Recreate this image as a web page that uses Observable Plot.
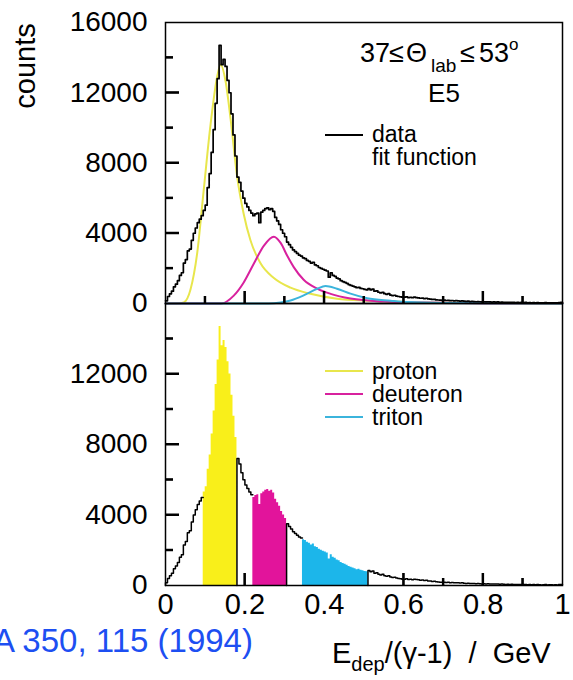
<!DOCTYPE html>
<html><head><meta charset="utf-8">
<script src="https://cdn.jsdelivr.net/npm/d3@7"></script>
<script src="https://cdn.jsdelivr.net/npm/@observablehq/plot@0.6"></script>
<style>
html,body{margin:0;padding:0;background:#fff;}
#chart{position:relative;width:573px;height:680px;overflow:hidden;font-family:"Liberation Sans",Arial,sans-serif;}
#chart svg{position:absolute;left:0;}
</style></head><body><div id="chart"></div>
<script>
// ---- data ----
const binWidth = 0.005;
const counts = [
  150, 400, 550, 700, 950, 1100, 1300, 1600, 1750, 2300,
  2500, 3000, 3100, 3600, 4000, 4300, 4600, 4800, 5000, 5300,
  5600, 6600, 7400, 8600, 9900, 11400, 12800, 14700, 13600, 13900,
  13500, 12700, 12000, 10800, 9600, 8400, 7200, 6900, 6400, 6000,
  5700, 5500, 5300, 5150, 5000, 5100, 5150, 4600, 5200, 5300,
  5400, 5450, 5350, 5400, 5250, 4900, 4700, 4500, 4200, 4000,
  3800, 3500, 3350, 3200, 3050, 2950, 2850, 2750, 2700, 2600,
  2550, 2450, 2400, 2300, 2350, 2200, 2150, 2050, 2000, 1950,
  1900, 1850, 1500, 1750, 1600, 1550, 1450, 1400, 1300, 1250,
  1200, 1150, 1080, 1030, 990, 950, 900, 920, 860, 840,
  800, 780, 850, 780, 820, 700, 720, 640, 600, 640,
  560, 520, 560, 480, 450, 470, 420, 400, 380, 360,
  360, 380, 340, 350, 330, 360, 340, 320, 300, 310,
  280, 300, 260, 250, 230, 240, 210, 200, 190, 180,
  190, 170, 180, 160, 170, 150, 160, 150, 140, 150,
  130, 120, 130, 110, 120, 110, 100, 110, 100, 90,
  100, 90, 100, 90, 80, 90, 80, 90, 70, 80,
  70, 60, 70, 60, 70, 60, 50, 60, 50, 60,
  50, 60, 40, 50, 40, 50, 40, 50, 40, 30,
  40, 50, 30, 40, 40, 30, 40, 30, 50, 60
];

const protonX = [0, 0.03, 0.046, 0.063, 0.08, 0.096, 0.113, 0.13, 0.139, 0.151, 0.164, 0.18, 0.197, 0.214, 0.239, 0.273, 0.315, 0.365, 0.432, 0.508, 0.6, 0.8, 1.0];
const protonY = [0, 0, 60, 800, 2900, 6400, 10100, 12900, 13600, 12700, 10500, 7300, 5100, 3600, 2300, 1450, 900, 550, 270, 160, 90, 30, 10];
const deuteronX = [0, 0.14, 0.172, 0.197, 0.222, 0.248, 0.273, 0.29, 0.307, 0.323, 0.348, 0.382, 0.416, 0.466, 0.55, 0.65, 0.8, 1.0];
const deuteronY = [0, 0, 450, 1200, 2250, 3300, 3800, 3450, 2700, 2070, 1350, 850, 550, 280, 110, 50, 20, 10];
const tritonX = [0, 0.26, 0.29, 0.315, 0.348, 0.382, 0.403, 0.432, 0.466, 0.508, 0.567, 0.61, 0.7, 0.85, 1.0];
const tritonY = [0, 0, 60, 170, 460, 840, 1000, 840, 560, 300, 160, 80, 30, 10, 0];

const species = ["proton", "deuteron", "triton"];
const lineColors = ["#e8e64c", "#d8219e", "#3bb4dc"];
const fillColors = ["#f9ef1a", "#e2149b", "#1cb6ea"];
const cutLow = [0.095, 0.22, 0.345];
const cutHigh = [0.18, 0.305, 0.51];

const yMajor = [4000, 8000, 12000];
const yMinor = [2000, 6000, 10000, 14000];
const xMajor = [0.2, 0.4, 0.6, 0.8];
const xMinor = [0.1, 0.3, 0.5, 0.7, 0.9];
const xLabels = [0, 0.2, 0.4, 0.6, 0.8, 1];
const topYLabels = [0, 4000, 8000, 12000, 16000];
const bottomYLabels = [0, 4000, 8000, 12000];

// ---- derived tables ----
const binLeft = counts.map((_, i) => +(i * binWidth).toFixed(3));
const eps = 1e-9;
const hist = binLeft.map((x, i) => ({x, y: counts[i]}));
hist.push({x: +(binLeft[binLeft.length - 1] + binWidth).toFixed(3), y: counts[counts.length - 1]});

const fits = [[protonX, protonY], [deuteronX, deuteronY], [tritonX, tritonY]]
  .map(([xs, ys]) => xs.map((x, i) => ({x, y: ys[i]})));

function binsIn(a, b) {
  return binLeft.map((_, i) => i).filter(i => binLeft[i] >= a - eps && binLeft[i] < b - eps);
}
const fillData = species.map((s, k) => {
  const idx = binsIn(cutLow[k], cutHigh[k]);
  const pts = idx.map(i => ({x: binLeft[i], y: counts[i]}));
  pts.push({x: cutHigh[k], y: counts[idx[idx.length - 1]]});
  return pts;
});
const segStarts = [0, ...cutHigh], segEnds = [...cutLow, 1];
const blackSegs = [];
segStarts.forEach((a, k) => {
  const b = segEnds[k];
  const idx = binsIn(a, b);
  blackSegs.push({seg: k, x: a, y: 0});
  idx.forEach(i => blackSegs.push({seg: k, x: binLeft[i], y: counts[i]}));
  blackSegs.push({seg: k, x: b, y: counts[idx[idx.length - 1]]});
});

// ---- plots ----
const FONT = "Liberation Sans, Arial, Helvetica, sans-serif";
const INK = "#000";
const W = 573, ML = 165, MR = 11;
const PW = W - ML - MR;
const common = {
  width: W, marginLeft: ML, marginRight: MR,
  x: {domain: [0, 1]}, y: {domain: [0, 16000]},
  style: {background: "transparent", overflow: "visible", fontFamily: FONT, color: INK}
};
const tickMarks = (PH) => [
  Plot.tickY(yMajor, {y: d => d, insetRight: PW - 14, stroke: INK, strokeWidth: 2}),
  Plot.tickY(yMinor, {y: d => d, insetRight: PW - 8, stroke: INK, strokeWidth: 2}),
  Plot.tickX(xMajor, {x: d => d, insetTop: PH - 12, stroke: INK, strokeWidth: 2}),
  Plot.tickX(xMinor, {x: d => d, insetTop: PH - 7, stroke: INK, strokeWidth: 2})
];

const topPH = 305 - 22 - 2;
const topPlot = Plot.plot({
  ...common, height: 305, marginTop: 22, marginBottom: 2,
  marks: [
    ...fits.map((f, k) => Plot.line(f, {x: "x", y: "y", curve: "monotone-x", stroke: lineColors[k], strokeWidth: 2})),
    Plot.line(hist, {x: "x", y: "y", curve: "step-after", stroke: INK, strokeWidth: 1.7}),
    ...tickMarks(topPH),
    Plot.frame({stroke: INK, strokeWidth: 1.5}),
    Plot.axisY(topYLabels, {tickSize: 0, tickPadding: 18, fontSize: 28, label: null, fill: INK, tickFormat: d => String(d)}),
    Plot.axisX([], {label: null})
  ]
});

const botPH = 380 - 3 - 95;
const bottomPlot = Plot.plot({
  ...common, height: 380, marginTop: 3, marginBottom: 95,
  marks: [
    ...tickMarks(botPH),
    ...fillData.map((f, k) => Plot.areaY(f, {x: "x", y: "y", curve: "step-after", fill: fillColors[k]})),
    Plot.line(blackSegs, {x: "x", y: "y", z: "seg", curve: "step-after", stroke: INK, strokeWidth: 1.5}),
    Plot.frame({stroke: INK, strokeWidth: 1.5}),
    Plot.axisY(bottomYLabels, {tickSize: 0, tickPadding: 18, fontSize: 28, label: null, fill: INK, tickFormat: d => String(d)}),
    Plot.axisX(xLabels, {anchor: "bottom", tickSize: 0, tickPadding: 8, fontSize: 29, label: null, fill: INK, tickFormat: d => String(d)})
  ]
});

const chart = document.getElementById("chart");
topPlot.style.top = "0px";
bottomPlot.style.top = "300px";
chart.appendChild(topPlot);
chart.appendChild(bottomPlot);

// ---- backup inward tick marks through each plot's own scales ----
function addTicks(svg, behind) {
  if (typeof svg.scale !== "function") return;
  const sx = svg.scale("x"), sy = svg.scale("y");
  if (!sx || !sy || typeof sx.apply !== "function") return;
  const x0 = sx.apply(0), y0 = sy.apply(0);
  const g = d3.select(svg).insert("g", behind ? "g" : null)
    .attr("stroke", INK).attr("stroke-width", 2);
  const yt = [...yMajor.map(v => [v, 14]), ...yMinor.map(v => [v, 8])];
  yt.forEach(([v, len]) => g.append("line")
    .attr("x1", x0).attr("x2", x0 + len).attr("y1", sy.apply(v)).attr("y2", sy.apply(v)));
  const xt = [...xMajor.map(v => [v, 12]), ...xMinor.map(v => [v, 7])];
  xt.forEach(([v, len]) => g.append("line")
    .attr("x1", sx.apply(v)).attr("x2", sx.apply(v)).attr("y1", y0).attr("y2", y0 - len));
}
try { addTicks(topPlot, false); addTicks(bottomPlot, true); } catch (e) {}

// ---- annotations ----
const tg = d3.select(topPlot).append("g").attr("font-family", FONT).attr("fill", INK).attr("text-anchor", "start");
tg.append("text").attr("transform", "translate(35,66) rotate(-90)").attr("text-anchor", "middle").attr("font-size", 29).text("counts");
const title = tg.append("text").attr("font-size", 27).attr("y", 62);
title.append("tspan").attr("x", 360).text("37");
title.append("tspan").attr("x", 389).text("≤");
title.append("tspan").attr("x", 406).text("Θ");
title.append("tspan").attr("x", 431).attr("y", 72).attr("font-size", 19).text("lab");
title.append("tspan").attr("x", 460).attr("y", 62).text("≤");
title.append("tspan").attr("x", 479).text("53");
title.append("tspan").attr("x", 509).attr("y", 50).attr("font-size", 17).text("o");
tg.append("text").attr("x", 444).attr("y", 102).attr("text-anchor", "middle").attr("font-size", 26).text("E5");
tg.append("line").attr("x1", 325).attr("x2", 363).attr("y1", 135).attr("y2", 135).attr("stroke", INK).attr("stroke-width", 2);
tg.append("text").attr("x", 372).attr("y", 142).attr("font-size", 23).text("data");
tg.append("text").attr("x", 372).attr("y", 165).attr("font-size", 23).text("fit function");

const bg = d3.select(bottomPlot).append("g").attr("font-family", FONT).attr("fill", INK).attr("text-anchor", "start");
species.forEach((s, k) => {
  const yl = 71 + k * 23;
  bg.append("line").attr("x1", 325).attr("x2", 363).attr("y1", yl).attr("y2", yl).attr("stroke", lineColors[k]).attr("stroke-width", 2);
  bg.append("text").attr("x", 372).attr("y", yl + 8).attr("font-size", 23).text(s);
});
const xl = bg.append("text").attr("y", 363).attr("font-size", 29).style("white-space", "pre");
xl.append("tspan").attr("x", 332).text("E");
xl.append("tspan").attr("dy", 8).attr("font-size", 20).text("dep");
xl.append("tspan").attr("dy", -8).text("/(γ-1)  /  GeV");
bg.append("text").attr("x", -7).attr("y", 352).attr("font-size", 33).attr("fill", "#1d4ff2").text("A 350, 115 (1994)");
</script></body></html>
